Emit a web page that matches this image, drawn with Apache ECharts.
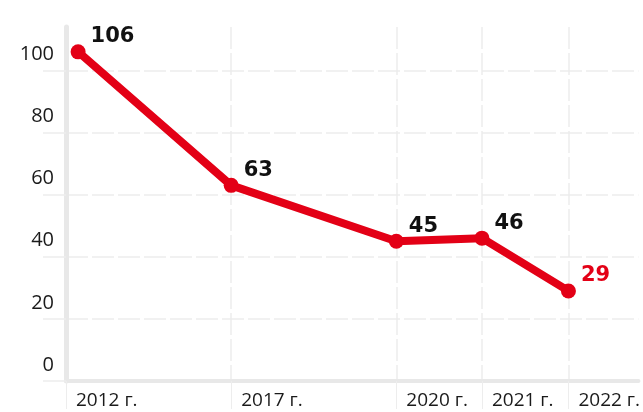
<!DOCTYPE html>
<html>
<head>
<meta charset="utf-8">
<style>
  html, body { margin: 0; padding: 0; background: #fff; }
  #chart { width: 643px; height: 412px; }
</style>
<script src="https://cdn.jsdelivr.net/npm/echarts@6/dist/echarts.min.js"></script>
</head>
<body>
<div id="chart"></div>
<script>
// данные
const years = ['2012 г.', '2017 г.', '2020 г.', '2021 г.', '2022 г.']
const values = [106, 63, 45, 46, 29]
// положение лет на оси (как на исходном рисунке, шаг неравномерный)
const yearSlots = [0.14, 1.91, 3.82, 4.81, 5.81]
// границы подписей по оси X
const yearBounds = [0, 1.91, 3.82, 4.81, 5.81]
const yTicks = [0, 20, 40, 60, 80, 100]

const red = '#e30016'
const gridColor = '#ededed'

const chart = echarts.init(document.getElementById('chart'))

chart.setOption({
  animation: false,
  grid: { left: 66, right: 3, top: 27, bottom: 31, containLabel: false },
  xAxis: {
    type: 'value',
    min: 0,
    max: 6.62,
    axisLine: { show: true, lineStyle: { color: '#e8e8e8', width: 4 } },
    axisTick: {
      show: true,
      customValues: yearBounds,
      length: 28,
      lineStyle: { color: gridColor, width: 1 },
    },
    axisLabel: {
      customValues: yearBounds,
      formatter: v => {
        const i = yearBounds.findIndex(b => Math.abs(b - v) < 1e-6)
        return i >= 0 ? years[i] : ''
      },
      align: 'left',
      padding: [0, 0, 0, 10],
      margin: 10,
      color: '#1a1a1a',
      fontFamily: 'Open Sans',
      fontSize: 19,
    },
    splitLine: { show: true, lineStyle: { color: gridColor, type: [22, 4], width: 1.5 } },
  },
  yAxis: {
    type: 'value',
    min: 0,
    max: 114,
    axisLine: { show: true, lineStyle: { color: '#e8e8e8', width: 5 } },
    axisTick: {
      show: true,
      customValues: yTicks,
      length: 23,
      lineStyle: { color: gridColor, width: 1.5 },
    },
    axisLabel: {
      customValues: yTicks,
      margin: 12,
      verticalAlign: 'bottom',
      padding: [0, 0, 6, 0],
      color: '#1a1a1a',
      fontFamily: 'Open Sans',
      fontSize: 20,
    },
    splitLine: { show: true, lineStyle: { color: gridColor, type: [22, 4], width: 1.5 } },
  },
  series: [{
    type: 'line',
    data: values.map((v, i) => {
      const item = { value: [yearSlots[i], v] }
      if (i === values.length - 1) item.label = { color: red }
      return item
    }),
    lineStyle: { color: red, width: 8 },
    itemStyle: { color: red },
    symbol: 'circle',
    symbolSize: 15,
    label: {
      show: true,
      position: 'right',
      distance: 5,
      offset: [0, -15],
      formatter: p => p.value[1],
      color: '#111',
      fontFamily: 'DejaVu Sans',
      fontWeight: 'bold',
      fontSize: 21,
    },
  }],
})
</script>
</body>
</html>
